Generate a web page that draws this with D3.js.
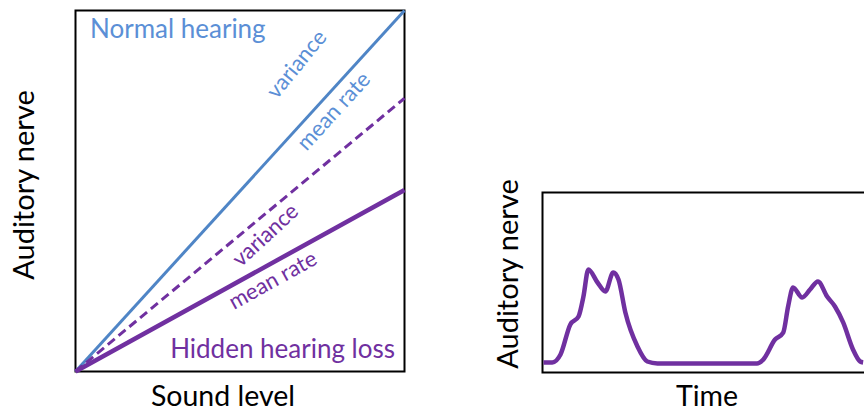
<!DOCTYPE html>
<html>
<head>
<meta charset="utf-8">
<script src="https://cdn.jsdelivr.net/npm/d3@7"></script>
<style>
	body { margin: 0; background: #fff; }
	text { font-family: Lato, 'Open Sans', sans-serif; }
</style>
</head>
<body>
<script>
const BLUE = '#4f85c6';
const BLUE_TEXT = '#5b8fd6';
const PURPLE = '#7030a0';

// left panel: response vs sound level (0..1 both)
const LEVEL = [0, 1];
const NORMAL_RATE = [0, 1.0];
const HIDDEN_VARIANCE = [0, 0.757];
const HIDDEN_RATE = [0, 0.503];

// right panel: response over time
const TIME = [0.3, 3.0, 5.5, 8.5, 11.0, 12.5, 14.0, 16.8, 19.2, 21.6, 23.2, 25.3, 29.0, 32.0, 35.1,
	65.5, 67.4, 71.0, 73.5, 75.0, 76.5, 79.3, 81.7, 84.1, 86.9, 89.3, 91.8, 94.8, 97.0, 97.9];
const RESPONSE = [0.056, 0.056, 0.10, 0.267, 0.311, 0.422, 0.572, 0.50, 0.45, 0.556, 0.517, 0.333, 0.144, 0.061, 0.05,
	0.05, 0.072, 0.183, 0.222, 0.367, 0.472, 0.417, 0.461, 0.506, 0.422, 0.367, 0.278, 0.128, 0.061, 0.056];

let svg = d3.select('body').append('svg')
	.attr('width', 864)
	.attr('height', 414);

// ---- left panel
let x1 = d3.scaleLinear().domain([0, 1]).range([75.5, 404.5]);
let y1 = d3.scaleLinear().domain([0, 1]).range([371.5, 10.5]);

let left = svg.append('g');

left.append('rect')
	.attr('x', x1(0))
	.attr('y', y1(1))
	.attr('width', x1(1) - x1(0))
	.attr('height', y1(0) - y1(1))
	.attr('fill', 'none')
	.attr('stroke', '#000')
	.attr('stroke-width', 2);

let line1 = d3.line()
	.x(d => x1(d[0]))
	.y(d => y1(d[1]));

left.append('path')
	.attr('d', line1(d3.zip(LEVEL, NORMAL_RATE)))
	.attr('fill', 'none')
	.attr('stroke', BLUE)
	.attr('stroke-width', 3);

left.append('path')
	.attr('d', line1(d3.zip(LEVEL, HIDDEN_VARIANCE)))
	.attr('fill', 'none')
	.attr('stroke', PURPLE)
	.attr('stroke-width', 3)
	.attr('stroke-dasharray', '9,5');

left.append('path')
	.attr('d', line1(d3.zip(LEVEL, HIDDEN_RATE)))
	.attr('fill', 'none')
	.attr('stroke', PURPLE)
	.attr('stroke-width', 4.5);

function angleOf(values) {
	let dx = x1(1) - x1(0);
	let dy = y1(values[1]) - y1(values[0]);
	return Math.atan2(dy, dx) * 180 / Math.PI;
}

// label placed along a line: t = position along it, off = distance from it
function lineLabel(t, off, tilt, label, values, colour) {
	let a = angleOf(values);
	let px = x1(t), py = y1(values[0] + (values[1] - values[0]) * t);
	left.append('text')
		.attr('transform', `translate(${px},${py}) rotate(${a}) translate(0,${off}) rotate(${tilt})`)
		.attr('text-anchor', 'middle')
		.attr('dy', '0.35em')
		.attr('font-size', 22)
		.attr('fill', colour)
		.text(label);
}

lineLabel(0.77, -44, -3, 'variance', NORMAL_RATE, BLUE_TEXT);
lineLabel(0.75, 15, 0, 'mean rate', NORMAL_RATE, BLUE_TEXT);
lineLabel(0.545, 16, -3, 'variance', HIDDEN_VARIANCE, PURPLE);
lineLabel(0.577, 15, 0, 'mean rate', HIDDEN_RATE, PURPLE);

left.append('text')
	.attr('x', 90)
	.attr('y', 38)
	.attr('font-size', 26)
	.attr('fill', BLUE_TEXT)
	.text('Normal hearing');

left.append('text')
	.attr('x', 395)
	.attr('y', 358)
	.attr('text-anchor', 'end')
	.attr('font-size', 26)
	.attr('fill', PURPLE)
	.text('Hidden hearing loss');

left.append('text')
	.attr('x', 223)
	.attr('y', 406)
	.attr('text-anchor', 'middle')
	.attr('font-size', 28.5)
	.attr('fill', '#000')
	.text('Sound level');

left.append('text')
	.attr('transform', 'translate(34,185) rotate(-90)')
	.attr('text-anchor', 'middle')
	.attr('font-size', 29)
	.attr('fill', '#000')
	.text('Auditory nerve');

// ---- right panel
let x2 = d3.scaleLinear().domain([0, 100]).range([542.5, 870]);
let y2 = d3.scaleLinear().domain([0, 1]).range([372.5, 192.5]);

let right = svg.append('g');

right.append('rect')
	.attr('x', x2(0))
	.attr('y', y2(1))
	.attr('width', x2(100) - x2(0))
	.attr('height', y2(0) - y2(1))
	.attr('fill', 'none')
	.attr('stroke', '#000')
	.attr('stroke-width', 2);

let line2 = d3.line()
	.x(d => x2(d[0]))
	.y(d => y2(d[1]))
	.curve(d3.curveMonotoneX);

right.append('path')
	.attr('d', line2(d3.zip(TIME, RESPONSE)))
	.attr('fill', 'none')
	.attr('stroke', PURPLE)
	.attr('stroke-width', 4.5)
	.attr('stroke-linejoin', 'round');

right.append('text')
	.attr('x', 707)
	.attr('y', 406)
	.attr('text-anchor', 'middle')
	.attr('font-size', 28.5)
	.attr('fill', '#000')
	.text('Time');

right.append('text')
	.attr('transform', 'translate(518,274) rotate(-90)')
	.attr('text-anchor', 'middle')
	.attr('font-size', 29)
	.attr('fill', '#000')
	.text('Auditory nerve');
</script>
</body>
</html>
